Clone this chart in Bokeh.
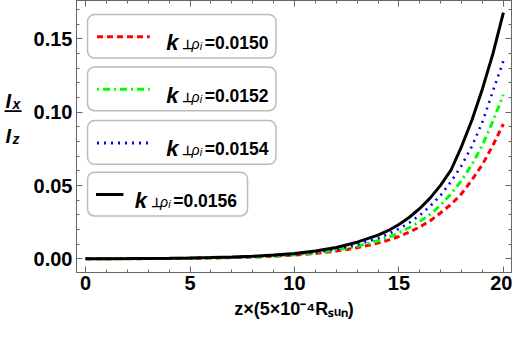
from bokeh.plotting import figure
from bokeh.models import (Range1d, FixedTicker, NumeralTickFormatter,
                          LinearAxis, BoxAnnotation, Label)
from bokeh.layouts import row
from bokeh.embed import file_html
from bokeh.resources import INLINE

# ---------------- data ----------------
z = [0, 1, 2, 3, 4, 5, 6, 7, 8, 9, 10, 11, 12, 13, 14,
     14.5, 15, 15.5, 16, 16.5, 17, 17.5, 18, 18.5, 19, 19.5, 20]

ratio_0150 = [0.00007, 0.0001, 0.00014, 0.0002, 0.0003, 0.00042, 0.0006, 0.00088,
              0.00125, 0.0018, 0.0026, 0.0037, 0.0053, 0.0076, 0.0108,
              0.0128, 0.0153, 0.0183, 0.0218, 0.026, 0.0315, 0.0372, 0.0445,
              0.054, 0.0645, 0.0775, 0.092]
ratio_0152 = [0.00008, 0.00011, 0.00016, 0.00023, 0.00033, 0.00047, 0.00068, 0.00098,
              0.0014, 0.002, 0.0029, 0.0042, 0.006, 0.0086, 0.0124,
              0.0148, 0.0178, 0.0214, 0.0256, 0.0305, 0.0367, 0.0445, 0.0535,
              0.0645, 0.0777, 0.094, 0.112]
ratio_0154 = [0.00008, 0.00012, 0.00017, 0.00024, 0.00035, 0.0005, 0.00073, 0.00105,
              0.0015, 0.0022, 0.0032, 0.0046, 0.0067, 0.0097, 0.0141,
              0.017, 0.0205, 0.0247, 0.0298, 0.036, 0.0435, 0.0528, 0.0637,
              0.077, 0.0935, 0.1145, 0.135]
ratio_0156 = [0.0001, 0.00014, 0.0002, 0.0003, 0.00042, 0.0006, 0.00087, 0.00125,
              0.0018, 0.0026, 0.0037, 0.0054, 0.0078, 0.0114, 0.0162,
              0.0194, 0.0235, 0.0284, 0.0344, 0.0416, 0.0503, 0.0608, 0.0768,
              0.0949, 0.1161, 0.140, 0.168]

k_labels = ["0.0150", "0.0152", "0.0154", "0.0156"]
series = [ratio_0150, ratio_0152, ratio_0154, ratio_0156]

x_major = [0, 5, 10, 15, 20]
x_minor = list(range(0, 21))
y_major = [0.0, 0.05, 0.10, 0.15]
y_minor = [i / 100 for i in range(0, 18)]

x_title = "z\u00d7(5\u00d710\u207b\u2074R\u209b\u1d64\u2099)"

# ---------------- styles ----------------
colors = ["#ff0000", "#00ff00", "#0000ff", "#000000"]
dashes = ["6 4", "7 4 2 4", "2 5", "solid"]
legend_dash_offset = [0, 11, 0, 0]
widths = [3, 3, 2.6, 3]
FRAME_GRAY = "#666666"
FONT = "Liberation Sans"

# reference-pixel -> data helpers (layout only)
def X(px):
    return (px - 89.3) / 21.37

def Y(py):
    return (263.3 - py) / 1477.0

LEFT_W = 26
MAIN_W = 486
MAIN_H = 325
BORDER_L = 50
BORDER_R = 1

p = figure(width=MAIN_W, height=MAIN_H,
           x_range=Range1d(X(80), X(525)), y_range=Range1d(Y(277), Y(3)),
           output_backend="svg", toolbar_location=None,
           min_border_left=BORDER_L, min_border_right=BORDER_R, min_border_top=0,
           min_border_bottom=53)
p.xgrid.visible = False
p.ygrid.visible = False
p.outline_line_color = FRAME_GRAY
p.background_fill_color = "white"
p.border_fill_color = "white"

def style_ticks(ax):
    ax.axis_line_color = FRAME_GRAY
    ax.major_tick_line_color = FRAME_GRAY
    ax.minor_tick_line_color = FRAME_GRAY
    ax.major_tick_in = 6
    ax.major_tick_out = 0
    ax.minor_tick_in = 3
    ax.minor_tick_out = 0

def style_labels(ax):
    ax.major_label_text_font = FONT
    ax.major_label_text_font_style = "bold"
    ax.major_label_text_font_size = "20px"
    ax.major_label_text_color = "black"
    ax.major_label_standoff = 4

p.xaxis[0].ticker = FixedTicker(ticks=x_major, minor_ticks=x_minor)
p.yaxis[0].ticker = FixedTicker(ticks=y_major, minor_ticks=y_minor)
for ax in (p.xaxis[0], p.yaxis[0]):
    style_ticks(ax)
    style_labels(ax)
p.xaxis[0].major_label_standoff = 3
p.yaxis[0].formatter = NumeralTickFormatter(format="0.00")

xa = p.xaxis[0]
xa.axis_label = x_title
xa.axis_label_text_font = FONT
xa.axis_label_text_font_style = "bold"
xa.axis_label_text_font_size = "18px"
xa.axis_label_text_color = "black"
xa.axis_label_standoff = 6

# label-free frame ticks on top and right (minor-tick mechanism only)
for place, minors_small, minors_big in (("above", x_minor, x_major),
                                        ("right", y_minor, y_major)):
    for mt, ln in ((minors_small, 3), (minors_big, 6)):
        ax = LinearAxis(ticker=FixedTicker(ticks=[], minor_ticks=mt))
        style_ticks(ax)
        ax.minor_tick_in = ln
        ax.major_label_standoff = 0
        ax.axis_label_standoff = 0
        p.add_layout(ax, place)

# ---------------- curves ----------------
for ys, c, d, w in zip(series, colors, dashes, widths):
    p.line(z, ys, line_color=c, line_dash=d, line_width=w)

# ---------------- text helper ----------------
def add_text(fig, text, x, y, size, style="bold", font=FONT):
    fig.add_layout(Label(x=x, y=y, text=text, text_font=font,
                         text_font_size=f"{size}px", text_font_style=style,
                         text_color="black", text_baseline="alphabetic",
                         text_align="left"))

# ---------------- legend (custom rounded boxes) ----------------
box_tops = [17, 70, 124, 176]
box_h = 44
box_lefts = [91.3, 91.3, 91.3, 91.3]
box_rights = [284, 284, 284, 255]
line_x0 = [101, 101, 101, 100]
line_x1 = [155, 155, 155, 128]
text_x = [171.7, 171.7, 171.7, 139.5]

for i in range(4):
    top = box_tops[i]
    p.add_layout(BoxAnnotation(left=X(box_lefts[i]), right=X(box_rights[i]),
                               top=Y(top), bottom=Y(top + box_h),
                               fill_color="white", fill_alpha=1.0,
                               line_color="#222222", line_width=1.5,
                               border_radius=7, level="underlay"))
    ly = Y(top + 22.5)
    p.line([X(line_x0[i]), X(line_x1[i])], [ly, ly], line_color=colors[i],
           line_dash=dashes[i], line_dash_offset=legend_dash_offset[i],
           line_width=3)
    tx = text_x[i]
    add_text(p, "k", X(tx), Y(top + 28.5), 22, "bold italic")
    add_text(p, "\u22a5", X(tx + 16.5), Y(top + 30.5), 13, "bold")
    add_text(p, "\u03c1", X(tx + 26.0), Y(top + 30), 14, "italic")
    add_text(p, "i", X(tx + 34.3), Y(top + 32), 11, "italic")
    add_text(p, "=" + k_labels[i], X(tx + 39.5), Y(top + 29), 17.5, "bold")

# ---------------- left strip with the fraction I_x / I_z ----------------
left = figure(width=LEFT_W, height=MAIN_H, x_range=Range1d(0, LEFT_W),
              y_range=Range1d(MAIN_H, 0), x_axis_type=None, y_axis_type=None,
              output_backend="svg", toolbar_location=None,
              min_border_left=0, min_border_right=0,
              min_border_top=0, min_border_bottom=0)
left.xgrid.visible = False
left.ygrid.visible = False
left.outline_line_color = None
left.background_fill_color = "white"
left.border_fill_color = "white"
add_text(left, "I", 5, 120, 20, "bold italic")
add_text(left, "x", 12, 124, 14, "bold italic")
add_text(left, "\u2014", 4, 131.5, 17, "bold")
add_text(left, "I", 5, 162, 20, "bold italic")
add_text(left, "z", 12, 166, 14, "bold italic")

layout = row(left, p)
open("out.html", "w").write(file_html(layout, INLINE))
